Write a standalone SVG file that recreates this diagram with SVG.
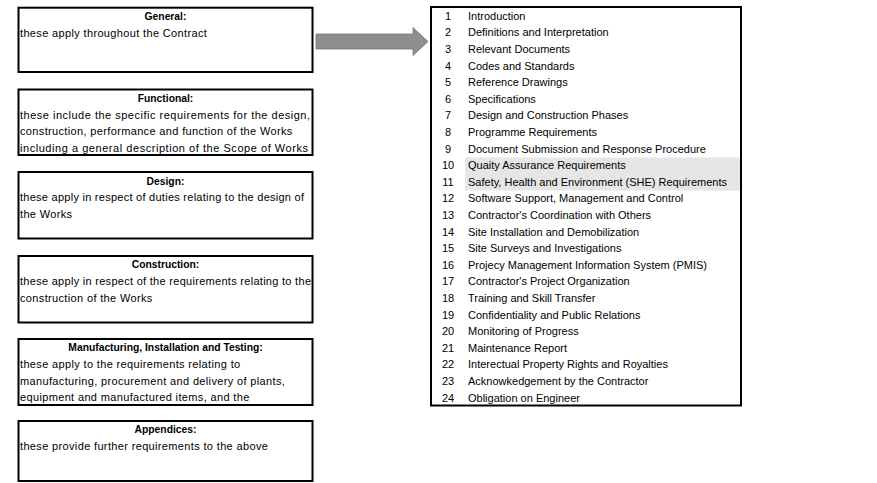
<svg xmlns="http://www.w3.org/2000/svg" width="877" height="483" viewBox="0 0 877 483">
<style>
.box{fill:#fff;stroke:#000;stroke-width:2}
.t{font-family:"Liberation Sans",Arial,sans-serif;font-size:11px;fill:#000}
.b{letter-spacing:0.35px}
.h{font-weight:bold;text-anchor:middle;font-size:10.3px}
.n{text-anchor:middle}
</style>
<rect width="877" height="483" fill="#fff"/>
<g id="general">
<rect class="box" x="18.5" y="7.7" width="294" height="64.3"/>
<text class="t h" x="165.5" y="20">General:</text>
<text class="t b" x="20" y="36.6">these apply throughout the Contract</text>
</g>
<g id="functional">
<rect class="box" x="18.5" y="89.5" width="294" height="65.5"/>
<text class="t h" x="165.5" y="102">Functional:</text>
<text class="t" x="20" y="118.6" textLength="290" lengthAdjust="spacing">these include the specific requirements for the design,</text>
<text class="t b" x="20" y="135.2">construction, performance and function of the Works</text>
<text class="t" x="20" y="151.8" textLength="288" lengthAdjust="spacing">including a general description of the Scope of Works</text>
</g>
<g id="design">
<rect class="box" x="18.5" y="172" width="294" height="66.5"/>
<text class="t h" x="165.5" y="184.5">Design:</text>
<text class="t" x="20" y="201" textLength="284" lengthAdjust="spacing">these apply in respect of duties relating to the design of</text>
<text class="t b" x="20" y="217.6">the Works</text>
</g>
<g id="construction">
<rect class="box" x="18.5" y="256" width="294" height="66.5"/>
<text class="t h" x="165.5" y="268.3">Construction:</text>
<text class="t" x="20" y="284.9" textLength="291" lengthAdjust="spacing">these apply in respect of the requirements relating to the</text>
<text class="t b" x="20" y="301.5">construction of the Works</text>
</g>
<g id="manufacturing">
<rect class="box" x="18.5" y="339" width="294" height="66"/>
<text class="t h" x="165.5" y="351.3">Manufacturing, Installation and Testing:</text>
<text class="t b" x="20" y="367.9">these apply to the requirements relating to</text>
<text class="t b" x="20" y="384.5">manufacturing, procurement and delivery of plants,</text>
<text class="t b" x="20" y="401.1">equipment and manufactured items, and the</text>
</g>
<g id="appendices">
<rect class="box" x="18.5" y="421" width="294" height="60"/>
<text class="t h" x="165.5" y="433.4">Appendices:</text>
<text class="t b" x="20" y="450">these provide further requirements to the above</text>
</g>
<g id="connectors">
<polygon points="316,34 413,34 413,27.5 428,41.5 413,55.5 413,49 316,49" fill="#8e8e8e" stroke="#777" stroke-width="0.8"/>
</g>
<g id="contents">
<rect class="box" x="431" y="7" width="310" height="398.5"/>
<rect x="465" y="157.5" width="275" height="33" fill="#e6e6e6"/>
<g class="t">
<text class="n" x="448" y="19.8">1</text><text x="468" y="19.8">Introduction</text>
<text class="n" x="448" y="36.4">2</text><text x="468" y="36.4">Definitions and Interpretation</text>
<text class="n" x="448" y="53">3</text><text x="468" y="53">Relevant Documents</text>
<text class="n" x="448" y="69.6">4</text><text x="468" y="69.6">Codes and Standards</text>
<text class="n" x="448" y="86.2">5</text><text x="468" y="86.2">Reference Drawings</text>
<text class="n" x="448" y="102.8">6</text><text x="468" y="102.8">Specifications</text>
<text class="n" x="448" y="119.4">7</text><text x="468" y="119.4">Design and Construction Phases</text>
<text class="n" x="448" y="136">8</text><text x="468" y="136">Programme Requirements</text>
<text class="n" x="448" y="152.6">9</text><text x="468" y="152.6">Document Submission and Response Procedure</text>
<text class="n" x="448" y="169.2">10</text><text x="468" y="169.2">Quaity Assurance Requirements</text>
<text class="n" x="448" y="185.8">11</text><text x="468" y="185.8">Safety, Health and Environment (SHE) Requirements</text>
<text class="n" x="448" y="202.4">12</text><text x="468" y="202.4">Software Support, Management and Control</text>
<text class="n" x="448" y="219">13</text><text x="468" y="219">Contractor's Coordination with Others</text>
<text class="n" x="448" y="235.6">14</text><text x="468" y="235.6">Site Installation and Demobilization</text>
<text class="n" x="448" y="252.2">15</text><text x="468" y="252.2">Site Surveys and Investigations</text>
<text class="n" x="448" y="268.8">16</text><text x="468" y="268.8">Projecy Management Information System (PMIS)</text>
<text class="n" x="448" y="285.4">17</text><text x="468" y="285.4">Contractor's Project Organization</text>
<text class="n" x="448" y="302">18</text><text x="468" y="302">Training and Skill Transfer</text>
<text class="n" x="448" y="318.6">19</text><text x="468" y="318.6">Confidentiality and Public Relations</text>
<text class="n" x="448" y="335.2">20</text><text x="468" y="335.2">Monitoring of Progress</text>
<text class="n" x="448" y="351.8">21</text><text x="468" y="351.8">Maintenance Report</text>
<text class="n" x="448" y="368.4">22</text><text x="468" y="368.4">Interectual Property Rights and Royalties</text>
<text class="n" x="448" y="385">23</text><text x="468" y="385">Acknowkedgement by the Contractor</text>
<text class="n" x="448" y="401.6">24</text><text x="468" y="401.6">Obligation on Engineer</text>
</g>
</g>
</svg>
